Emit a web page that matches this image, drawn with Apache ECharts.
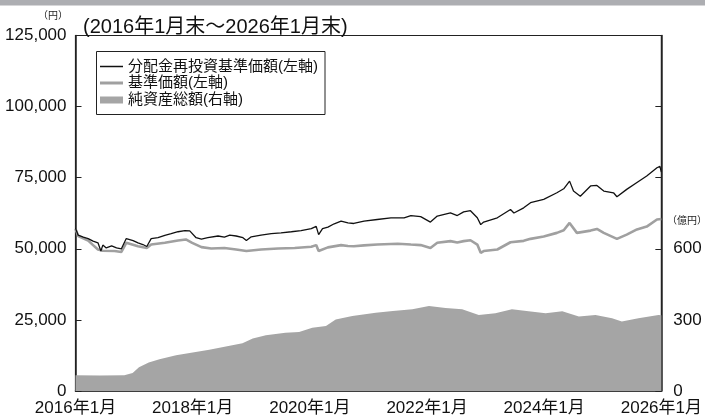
<!DOCTYPE html>
<html>
<head>
<meta charset="utf-8">
<script src="https://cdn.jsdelivr.net/npm/echarts@6/dist/echarts.min.js"></script>
<style>
html,body{margin:0;padding:0;background:#fff;}
#chart{width:705px;height:417px;}
</style>
</head>
<body>
<div id="chart"></div>
<script>
// x positions are months elapsed since 2016年1月末
const xTickLabels = ['2016年1月','2018年1月','2020年1月','2022年1月','2024年1月','2026年1月'];

const reinvMonths = [0,0.55,1.6,2.6,3.6,4.6,5.2,5.6,6.3,7.4,8.4,9.4,10.4,11.8,12.8,13.8,14.6,15.5,16.9,18.3,19.6,21,22.4,23.4,24.7,25.8,27.1,29.2,30.5,31.6,32.9,34.3,35,36,38,40.1,42.1,44.2,46.2,48.3,49.3,49.8,50.6,51.7,53,54.4,55.8,57,59.1,61.8,64.6,67.3,68.7,70.7,72.7,74.1,76.8,78.2,79.5,80.9,82.3,83,83.6,86.4,89.1,89.8,91.8,93.2,95.9,98.6,100,101.2,102,103.4,105.5,106.8,108.2,110.2,110.9,112.9,115,117,119.1,119.7,120];
const reinvValues = [57200,54800,54100,53600,52700,52100,49200,51300,50300,51000,50300,50000,53600,52900,52100,51500,50800,53600,53900,54700,55300,56000,56400,56300,53900,53400,53900,54500,54100,54800,54500,53900,52900,54200,54800,55300,55600,56000,56400,57100,57900,55000,57100,57600,58800,59700,59100,58900,59700,60300,60900,60900,61700,61300,59400,61500,62600,61700,63000,63400,60900,58500,59400,60900,63800,62600,64400,66200,67400,69700,71100,73800,70300,68500,72100,72300,70300,69700,68300,70900,73300,75600,78500,79000,77000];

const navMonths = [0,0.55,2.6,3.6,4.6,5.6,8,9.4,10.4,12.8,14.6,15.5,18.3,21,22.6,23.9,25.8,27.8,30.5,32.9,35,38,41.5,44.9,48.3,49.3,49.8,51.7,54.4,55.8,57,59.1,61.8,64.6,66,68.7,70.7,72.7,74.1,76.8,78.2,79.5,80.9,82.3,83,83.6,86.4,89.1,91.8,93.2,95.9,98.6,100,101.2,102.7,105.5,106.8,108.2,110.9,112.9,115,117,119.1,120];
const navValues = [57000,54500,52900,51300,49750,49300,49200,48900,52100,50900,50300,51500,52100,52900,53300,52100,50600,50100,50300,49750,49200,49750,50100,50300,50700,51300,49200,50500,51300,51000,50900,51200,51500,51700,51800,51500,51300,50300,52100,52700,52200,52700,53000,51500,48600,49200,49750,52300,52800,53500,54300,55600,56500,59100,55600,56400,57000,55600,53500,55000,56800,57800,60300,60500];

const assetMonths = [0,5,10,11.7,13,15,17.2,20.6,24,27.4,30.8,34.2,36.3,39,43,45.8,48.5,51.3,53.3,56.7,61.5,65,69,72.4,75.8,79.2,82.6,86,89.4,92.8,96.3,99.7,103.1,106.5,109.9,111.9,115.3,119.4,120];
const assetValues = [66,65,66,76,100,120,134,151,162,174,188,202,221,235,246,249,267,274,302,316,330,338,345,359,350,345,321,328,345,336,328,336,314,321,307,293,307,321,320];

const zip = (xs, ys) => xs.map((x, i) => [x, ys[i]]);

const FONT = '"Liberation Sans", "Noto Sans CJK JP", sans-serif';
const chart = echarts.init(document.getElementById('chart'));
chart.setOption({
  animation: false,
  backgroundColor: '#ffffff',
  title: {
    text: '(2016年1月末～2026年1月末)',
    left: 78, top: 12,
    textStyle: {fontFamily: FONT, fontSize: 20, fontWeight: 'normal', color: '#111'}
  },
  grid: {left: 75.5, right: 42, top: 35.5, bottom: 26, show: true, borderColor: '#222', borderWidth: 1.2, backgroundColor: 'transparent'},
  legend: [
    {data: ['分配金再投資基準価額(左軸)'], left: 100, top: 58.5, padding: 0, itemWidth: 23, itemHeight: 1.5, icon: 'rect', textStyle: {fontFamily: FONT, fontSize: 15, lineHeight: 16, color: '#111'}},
    {data: ['基準価額(左軸)'], left: 100, top: 75, padding: 0, itemWidth: 23, itemHeight: 3, icon: 'rect', textStyle: {fontFamily: FONT, fontSize: 15, lineHeight: 16, color: '#111'}},
    {data: ['純資産総額(右軸)'], left: 100, top: 92, padding: 0, itemWidth: 23, itemHeight: 7, icon: 'rect', textStyle: {fontFamily: FONT, fontSize: 15, lineHeight: 16, color: '#111'}}
  ],
  graphic: [
    {type: 'rect', shape: {x: 0, y: 0, width: 705, height: 5.5}, style: {fill: '#adaeb2'}, silent: true},
    {type: 'rect', shape: {x: 96.5, y: 51.5, width: 228.5, height: 63}, style: {fill: 'none', stroke: '#222', lineWidth: 1}, silent: true, z: 10},
    {type: 'text', x: 38, y: 11, style: {text: '（円）', fontFamily: FONT, fontSize: 10, fill: '#222'}, silent: true},
    {type: 'text', x: 667, y: 216, style: {text: '（億円）', fontFamily: FONT, fontSize: 10, fill: '#222'}, silent: true}
  ],
  xAxis: {
    type: 'value', min: 0, max: 120, interval: 24,
    axisLine: {show: true, lineStyle: {color: '#222', width: 1.5}},
    axisTick: {show: true, inside: true, length: 5, lineStyle: {color: '#222'}},
    axisLabel: {margin: 9, fontFamily: FONT, fontSize: 17, color: '#111', showMinLabel: true, showMaxLabel: true,
      formatter: v => xTickLabels[Math.round(v / 24)] || ''},
    splitLine: {show: false}
  },
  yAxis: [
    {
      type: 'value', min: 0, max: 125000, interval: 25000, position: 'left',
      axisLine: {show: true, lineStyle: {color: '#222', width: 1.5}},
      axisTick: {show: true, inside: true, length: 6, lineStyle: {color: '#222'}},
      axisLabel: {margin: 9, fontFamily: FONT, fontSize: 17, color: '#111',
        formatter: v => v.toLocaleString('en-US')},
      splitLine: {show: false}
    },
    {
      type: 'value', min: 0, max: 1500, interval: 300, position: 'right',
      axisLine: {show: true, lineStyle: {color: '#222', width: 1.5}},
      axisTick: {show: true, inside: true, length: 6, lineStyle: {color: '#222'}},
      axisLabel: {margin: 12, fontFamily: FONT, fontSize: 17, color: '#111',
        formatter: v => (v <= 600 ? String(v) : '')},
      splitLine: {show: false}
    }
  ],
  series: [
    {
      name: '純資産総額(右軸)', type: 'line', yAxisIndex: 1, data: zip(assetMonths, assetValues),
      symbol: 'none', lineStyle: {width: 0}, itemStyle: {color: '#a5a5a5'},
      areaStyle: {color: '#a5a5a5', opacity: 1}, z: 1
    },
    {
      name: '基準価額(左軸)', type: 'line', yAxisIndex: 0, data: zip(navMonths, navValues),
      symbol: 'none', lineStyle: {width: 2.6, color: '#a0a0a0'}, itemStyle: {color: '#a0a0a0'}, z: 2
    },
    {
      name: '分配金再投資基準価額(左軸)', type: 'line', yAxisIndex: 0, data: zip(reinvMonths, reinvValues),
      symbol: 'none', lineStyle: {width: 1.3, color: '#111'}, itemStyle: {color: '#111'}, z: 3
    }
  ]
});
</script>
</body>
</html>
